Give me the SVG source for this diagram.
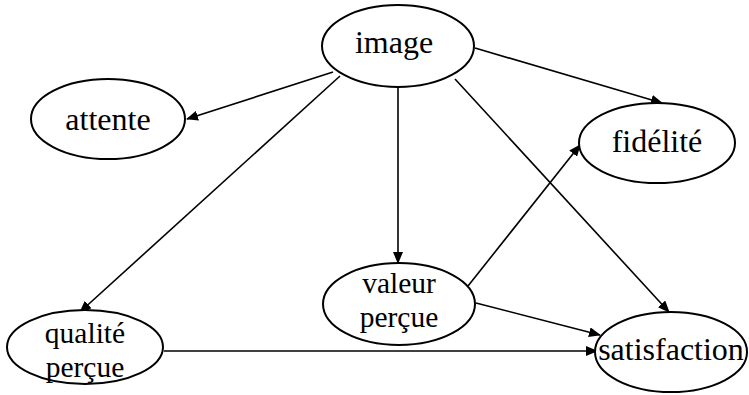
<svg xmlns="http://www.w3.org/2000/svg" width="749" height="395" viewBox="0 0 749 395">
<style>
.node ellipse{fill:#fff;stroke:#000;stroke-width:2}
.node text{font-family:"Liberation Serif","Times New Roman",serif;font-size:32px;fill:#000;text-anchor:middle}
.node text.two{font-size:29.5px}
.edges line{stroke:#000;stroke-width:1.6;fill:none}
</style>
<defs>
<marker id="arr" viewBox="0 0 12 10" refX="11" refY="5" markerWidth="12" markerHeight="10" markerUnits="userSpaceOnUse" orient="auto">
<path d="M0,0 L12,5 L0,10 Z" fill="#000"/>
</marker>
</defs>
<rect width="749" height="395" fill="#fff"/>
<g class="edges">
<line x1="333" y1="72" x2="187" y2="119" marker-end="url(#arr)"/>
<line x1="340" y1="76" x2="80" y2="312" marker-end="url(#arr)"/>
<line x1="398" y1="88" x2="398" y2="263" marker-end="url(#arr)"/>
<line x1="475" y1="48" x2="662" y2="103" marker-end="url(#arr)"/>
<line x1="455" y1="79" x2="669" y2="312" marker-end="url(#arr)"/>
<line x1="468" y1="286" x2="580" y2="145" marker-end="url(#arr)"/>
<line x1="476" y1="303" x2="600" y2="335" marker-end="url(#arr)"/>
<line x1="164" y1="351" x2="597" y2="351" marker-end="url(#arr)" stroke="#555"/>
</g>
<g id="image" class="node"><ellipse cx="398" cy="46" rx="76" ry="41"/><text x="394" y="53">image</text></g>
<g id="attente" class="node"><ellipse cx="108" cy="119" rx="77" ry="40"/><text x="108" y="130">attente</text></g>
<g id="fidelite" class="node"><ellipse cx="657" cy="143" rx="78" ry="40"/><text x="657" y="152">fidélité</text></g>
<g id="valeur" class="node"><ellipse cx="399" cy="304" rx="76" ry="41"/><text class="two" x="399" y="293">valeur</text><text class="two" x="399" y="327">perçue</text></g>
<g id="qualite" class="node"><ellipse cx="85" cy="347" rx="78" ry="37"/><text class="two" x="85" y="343">qualité</text><text class="two" x="85" y="377">perçue</text></g>
<g id="satisfaction" class="node"><ellipse cx="671" cy="352" rx="76" ry="40"/><text x="671" y="360">satisfaction</text></g>
</svg>
